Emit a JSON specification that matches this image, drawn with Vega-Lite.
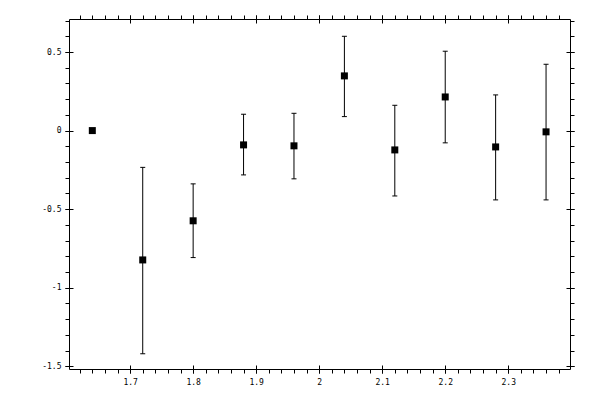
{
  "$schema": "https://vega.github.io/schema/vega-lite/v6.json",
  "autosize": {"type": "none"},
  "padding": {"left": 69, "top": 19, "right": 30, "bottom": 31},
  "width": 501,
  "height": 350,
  "background": "white",
  "config": {
    "view": {"stroke": "black", "strokeWidth": 1},
    "axis": {
      "grid": false,
      "domain": false,
      "title": null,
      "tickColor": "black",
      "tickWidth": 1,
      "labelColor": "black",
      "labelFont": "DejaVu Sans Mono",
      "labelFontSize": 8,
      "labelFontWeight": "normal"
    }
  },
  "data": {
    "values": [
      {"x": 1.64, "y": 0, "lo": null, "hi": null},
      {"x": 1.72, "y": -0.823, "lo": -1.42, "hi": -0.234},
      {"x": 1.80, "y": -0.574, "lo": -0.808, "hi": -0.339},
      {"x": 1.88, "y": -0.091, "lo": -0.282, "hi": 0.104},
      {"x": 1.96, "y": -0.097, "lo": -0.307, "hi": 0.110},
      {"x": 2.04, "y": 0.348, "lo": 0.089, "hi": 0.600},
      {"x": 2.12, "y": -0.123, "lo": -0.416, "hi": 0.161},
      {"x": 2.20, "y": 0.214, "lo": -0.078, "hi": 0.505},
      {"x": 2.28, "y": -0.104, "lo": -0.441, "hi": 0.227},
      {"x": 2.36, "y": -0.008, "lo": -0.441, "hi": 0.422}
    ]
  },
  "layer": [
    {
      "mark": {"type": "rule", "color": "black", "strokeWidth": 1},
      "encoding": {
        "x": {"field": "x", "type": "quantitative",
          "scale": {"domain": [1.603, 2.398], "nice": false, "zero": false},
          "axis": {"orient": "bottom", "values": [1.7, 1.8, 1.9, 2, 2.1, 2.2, 2.3], "offset": -4, "tickSize": 8, "labelPadding": 5, "labelExpr": "'' + datum.value"}},
        "y": {"field": "lo", "type": "quantitative",
          "scale": {"domain": [-1.517, 0.71], "nice": false, "zero": false},
          "axis": {"orient": "left", "values": [-1.5, -1, -0.5, 0, 0.5], "offset": -4, "tickSize": 8, "labelPadding": 4, "labelExpr": "'' + datum.value"}},
        "y2": {"field": "hi"}
      }
    },
    {
      "mark": {"type": "tick", "orient": "horizontal", "color": "black", "size": 5, "thickness": 1, "opacity": 1},
      "encoding": {
        "x": {"field": "x", "type": "quantitative",
          "axis": {"orient": "bottom", "values": [1.62,1.64,1.66,1.68,1.7,1.72,1.74,1.76,1.78,1.8,1.82,1.84,1.86,1.88,1.9,1.92,1.94,1.96,1.98,2,2.02,2.04,2.06,2.08,2.1,2.12,2.14,2.16,2.18,2.2,2.22,2.24,2.26,2.28,2.3,2.32,2.34,2.36,2.38], "tickSize": 4, "labels": false}},
        "y": {"field": "hi", "type": "quantitative",
          "axis": {"orient": "left", "values": [-1.5,-1.4,-1.3,-1.2,-1.1,-1,-0.9,-0.8,-0.7,-0.6,-0.5,-0.4,-0.3,-0.2,-0.1,0,0.1,0.2,0.3,0.4,0.5,0.6,0.7], "tickSize": 4, "labels": false}}
      }
    },
    {
      "mark": {"type": "tick", "orient": "horizontal", "color": "black", "size": 5, "thickness": 1, "opacity": 1},
      "encoding": {
        "x": {"field": "x", "type": "quantitative",
          "axis": {"orient": "top", "values": [1.7, 1.8, 1.9, 2, 2.1, 2.2, 2.3], "offset": -4, "tickSize": 8, "labels": false}},
        "y": {"field": "lo", "type": "quantitative",
          "axis": {"orient": "right", "values": [-1.5, -1, -0.5, 0, 0.5], "offset": -4, "tickSize": 8, "labels": false}}
      }
    },
    {
      "mark": {"type": "square", "color": "black", "size": 49, "opacity": 1, "filled": true},
      "encoding": {
        "x": {"field": "x", "type": "quantitative",
          "axis": {"orient": "top", "values": [1.62,1.64,1.66,1.68,1.7,1.72,1.74,1.76,1.78,1.8,1.82,1.84,1.86,1.88,1.9,1.92,1.94,1.96,1.98,2,2.02,2.04,2.06,2.08,2.1,2.12,2.14,2.16,2.18,2.2,2.22,2.24,2.26,2.28,2.3,2.32,2.34,2.36,2.38], "tickSize": 4, "labels": false}},
        "y": {"field": "y", "type": "quantitative",
          "axis": {"orient": "right", "values": [-1.5,-1.4,-1.3,-1.2,-1.1,-1,-0.9,-0.8,-0.7,-0.6,-0.5,-0.4,-0.3,-0.2,-0.1,0,0.1,0.2,0.3,0.4,0.5,0.6,0.7], "tickSize": 4, "labels": false}}
      }
    }
  ],
  "resolve": {"axis": {"x": "independent", "y": "independent"}}
}
